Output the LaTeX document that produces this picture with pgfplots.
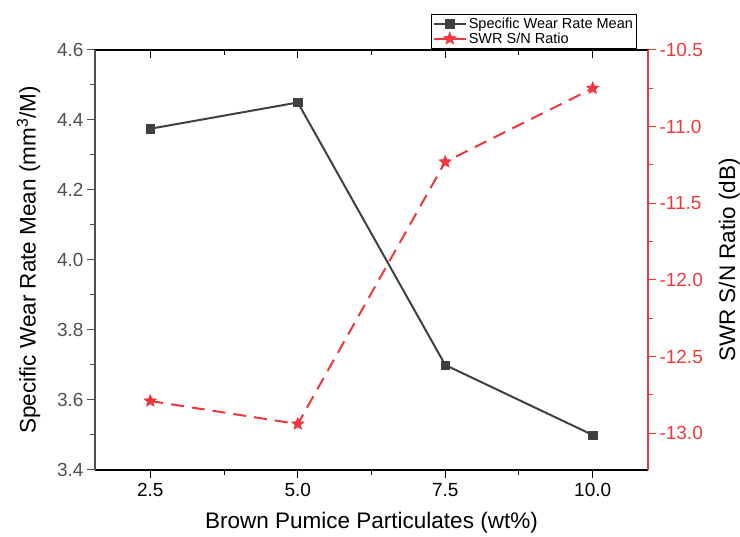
\documentclass[border=0pt]{standalone}
\usepackage{pgfplots}
\pgfplotsset{compat=1.18}
\usepackage{fontspec}
\setmainfont{Liberation Sans}
\definecolor{sgray}{HTML}{404040}
\definecolor{sred}{HTML}{F0383C}
\definecolor{tickgray}{HTML}{505050}
\pgfdeclareplotmark{fstar}{%
  \pgfpathmoveto{\pgfpointpolar{90}{\pgfplotmarksize}}%
  \pgfpathlineto{\pgfpointpolar{126}{0.45\pgfplotmarksize}}%
  \pgfpathlineto{\pgfpointpolar{162}{\pgfplotmarksize}}%
  \pgfpathlineto{\pgfpointpolar{198}{0.45\pgfplotmarksize}}%
  \pgfpathlineto{\pgfpointpolar{234}{\pgfplotmarksize}}%
  \pgfpathlineto{\pgfpointpolar{270}{0.45\pgfplotmarksize}}%
  \pgfpathlineto{\pgfpointpolar{306}{\pgfplotmarksize}}%
  \pgfpathlineto{\pgfpointpolar{342}{0.45\pgfplotmarksize}}%
  \pgfpathlineto{\pgfpointpolar{18}{\pgfplotmarksize}}%
  \pgfpathlineto{\pgfpointpolar{54}{0.45\pgfplotmarksize}}%
  \pgfpathclose
  \pgfusepathqfillstroke}
\begin{document}
\begin{tikzpicture}[x=1pt,y=1pt]
\path[use as bounding box] (-95,-67) rectangle (645,470);
\pgfplotsset{
  common/.style={
    at={(0,0)}, anchor=south west,
    width=553pt, height=420pt, scale only axis,
    xmin=1.5625, xmax=10.9375,
    major tick length=8pt, minor tick length=5pt,
    tick label style={font=\fontsize{19}{22}\selectfont},
    label style={font=\fontsize{22.5}{26}\selectfont},
  }
}
% top axis line with inward ticks
\begin{axis}[common,
  axis x line*=top, axis y line=none,
  tick align=inside,
  xtick={2.5,5,7.5,10}, minor xtick={3.75,6.25,8.75},
  xticklabels={},
  ymin=0, ymax=1,
  x axis line style={black, line width=1.2pt},
  every tick/.style={black, line width=1pt},
]
\end{axis}
% main left axis
\begin{axis}[common,
  ymin=3.4, ymax=4.6,
  axis x line*=bottom, axis y line*=left,
  axis line style={-, line width=1.2pt},
  x axis line style={black},
  y axis line style={tickgray},
  tick align=outside,
  xtick={2.5,5,7.5,10}, minor xtick={3.75,6.25,8.75},
  xticklabels={2.5,5.0,7.5,10.0},
  ytick={3.4,3.6,3.8,4.0,4.2,4.4,4.6},
  minor ytick={3.5,3.7,3.9,4.1,4.3,4.5},
  yticklabels={3.4,3.6,3.8,4.0,4.2,4.4,4.6},
  x tick style={black, line width=1pt},
  y tick style={tickgray, line width=1pt},
  x tick label style={black, yshift=-2pt},
  y tick label style={tickgray},
  xlabel={Brown Pumice Particulates (wt\%)},
  ylabel={Specific Wear Rate Mean (mm\textsuperscript{3}/M)},
  xlabel style={yshift=-8pt},
  ylabel style={yshift=10pt},
  legend style={at={(0.980,1.003)}, anchor=south east,
    font=\fontsize{14.5}{16}\selectfont, draw=black, line width=1pt,
    inner sep=1.5pt, row sep=-1pt, cells={anchor=west}},
  legend cell align=left,
  legend image code/.code={
    \draw[#1, mark repeat=2, mark phase=2] plot coordinates {(-3pt,0pt) (13pt,0pt) (29pt,0pt)};},
]
\addplot[sgray, line width=2pt, mark=square*, mark size=4.2pt, mark options={solid, line width=0.5pt}]
  coordinates {(2.5,4.375) (5.0,4.45) (7.5,3.70) (10.0,3.50)};
\addlegendentry{Specific Wear Rate Mean}
\addlegendimage{sred, line width=2pt, mark=fstar, mark size=6.5pt, mark options={solid, fill=sred, line width=0.5pt}}
\addlegendentry{SWR S/N Ratio}
\end{axis}
% right axis
\begin{axis}[common,
  ymin=-13.24, ymax=-10.5,
  axis x line=none, axis y line*=right,
  axis line style={-, sred, line width=1.2pt},
  tick align=outside,
  ytick={-13.0,-12.5,-12.0,-11.5,-11.0,-10.5},
  minor ytick={-12.75,-12.25,-11.75,-11.25,-10.75},
  yticklabels={-13.0,-12.5,-12.0,-11.5,-11.0,-10.5},
  y tick style={sred, line width=1pt},
  y tick label style={sred},
  ylabel={SWR S/N Ratio (dB)},
  ylabel style={black, yshift=-9pt},
]
\addplot[sred, line width=2pt, dash pattern=on 13pt off 8pt, mark=fstar, mark size=6.5pt, mark options={solid, fill=sred, line width=0.5pt}]
  coordinates {(2.5,-12.79) (5.0,-12.94) (7.5,-11.23) (10.0,-10.75)};
\end{axis}
\end{tikzpicture}
\end{document}
